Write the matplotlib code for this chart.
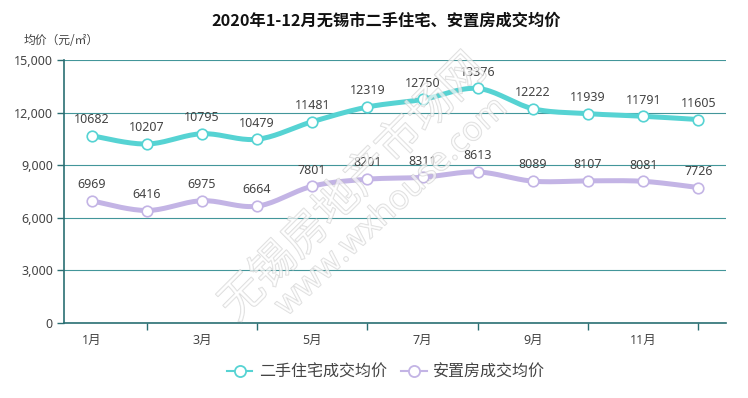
import numpy as np
import matplotlib
matplotlib.use("Agg")
import matplotlib.pyplot as plt
import matplotlib.patheffects as pe

plt.rcParams['font.family'] = ['Noto Sans CJK SC', 'DejaVu Sans']
NUMFONT = ['Noto Sans', 'Noto Sans CJK SC']

months = ['1月', '2月', '3月', '4月', '5月', '6月', '7月', '8月', '9月', '10月', '11月', '12月']
resale = [10682, 10207, 10795, 10479, 11481, 12319, 12750, 13376, 12222, 11939, 11791, 11605]
resettle = [6969, 6416, 6975, 6664, 7801, 8201, 8311, 8613, 8089, 8107, 8081, 7726]
series_names = ['二手住宅成交均价', '安置房成交均价']
colors = ['#56d3d3', '#c3b4e5']
yticks = [0, 3000, 6000, 9000, 12000, 15000]

title = '2020年1-12月无锡市二手住宅、安置房成交均价'
ylabel = '均价（元/㎡）'
watermark_cn = '无锡房地产市场网'
watermark_en = 'www.wxhouse.com'


def smooth(x, y, n=20):
    x = np.asarray(x, float); y = np.asarray(y, float)
    px = np.concatenate([[x[0]], x, [x[-1]]])
    py = np.concatenate([[y[0]], y, [y[-1]]])
    xs, ys = [], []
    for i in range(1, len(px) - 2):
        p0, p1, p2, p3 = (np.array([px[j], py[j]]) for j in (i - 1, i, i + 1, i + 2))
        c1 = p1 + (p2 - p0) / 6.0
        c2 = p2 - (p3 - p1) / 6.0
        t = np.linspace(0, 1, n)[:, None]
        b = (1 - t) ** 3 * p1 + 3 * (1 - t) ** 2 * t * c1 + 3 * (1 - t) * t ** 2 * c2 + t ** 3 * p2
        xs.append(b[:, 0]); ys.append(b[:, 1])
    return np.concatenate(xs), np.concatenate(ys)


W, H = 748, 398
fig = plt.figure(figsize=(W / 100, H / 100), dpi=100)
ax = fig.add_axes([64 / W, 1 - 323 / H, (726 - 64) / W, (323 - 60) / H])

x = np.arange(len(months))
for vals, col, name in zip([resale, resettle], colors, series_names):
    sx, sy = smooth(x, vals)
    ax.plot(sx, sy, color=col, lw=3.6, solid_capstyle='round', zorder=3)
    ax.plot(x, vals, ls='none', marker='o', ms=7.6, mfc='white', mec=col, mew=1.2, zorder=4)
    for xi, v in zip(x, vals):
        ax.annotate(str(v), (xi, v), xytext=(0, 7), textcoords='offset points',
                    ha='center', va='bottom', fontsize=9, color='#444444', zorder=5,
                    family=NUMFONT)
    ax.plot([], [], color=col, lw=1.5, marker='o', ms=8, mfc='white', mec=col, mew=1.3, label=name)

ax.set_xlim(-0.5, len(months) - 0.5)
ax.set_ylim(0, 15000)
ax.set_yticks(yticks)
ax.set_yticklabels([f'{v:,}' for v in yticks], family=NUMFONT)
ax.grid(axis='y', color='#2e8b8f', lw=0.8, alpha=0.9)
ax.set_axisbelow(True)
ax.set_xticks(x[1::2])
ax.set_xticklabels([])
ax.set_xticks(x[0::2], minor=True)
ax.set_xticklabels(months[0::2], minor=True, family=NUMFONT)
ax.tick_params(axis='x', which='major', length=5, color='#2a6f73', width=1, direction='out')
ax.tick_params(axis='x', which='minor', length=0, pad=8, labelsize=9, labelcolor='#444444')
ax.tick_params(axis='y', length=5, color='#2a6f73', width=1, labelsize=9, labelcolor='#444444', pad=3)
for s in ['top', 'right']:
    ax.spines[s].set_visible(False)
for s in ['left', 'bottom']:
    ax.spines[s].set_color('#2a6f73')
    ax.spines[s].set_linewidth(1.2)

fig.text(386 / W, 1 - 21 / H, title, ha='center', va='center', fontsize=11.7, fontweight='bold', color='#111111')
fig.text(24 / W, 1 - 41 / H, ylabel, ha='left', va='center', fontsize=8.5, color='#444444')

wm_fx = [pe.withStroke(linewidth=0.9, foreground=(0.75, 0.75, 0.75, 0.55)), pe.Normal()]
fig.text(353 / W, 1 - 187 / H, watermark_cn, ha='center', va='center', rotation=45,
         fontsize=32, color=(1, 1, 1, 0.3), zorder=10, path_effects=wm_fx)
fig.text(392 / W, 1 - 207 / H, watermark_en, ha='center', va='center', rotation=43,
         fontsize=24, color=(1, 1, 1, 0.3), zorder=10, path_effects=wm_fx,
         family=['Noto Sans', 'DejaVu Sans'])

leg = fig.legend(loc='center', bbox_to_anchor=(386 / W, 1 - 372 / H), ncol=2, frameon=False,
                 fontsize=11.5, handlelength=1.6, columnspacing=0.9, handletextpad=0.4, labelcolor='#444444')

fig.savefig('out.png', dpi=100)
